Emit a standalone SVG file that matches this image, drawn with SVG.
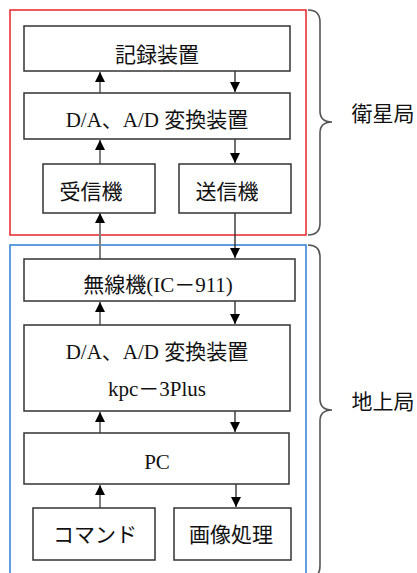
<svg xmlns="http://www.w3.org/2000/svg" width="417" height="573" viewBox="0 0 417 573">
<defs>
<marker id="ah" markerUnits="userSpaceOnUse" markerWidth="11" markerHeight="12" refX="10" refY="5.5" orient="auto">
<path d="M0,0.5 L10,5.5 L0,10.5 Z" fill="#000"/>
</marker>
<style>
.box{fill:#fff;stroke:#333;stroke-width:1.5}
.t{font-family:"Liberation Serif","Noto Sans CJK JP",serif;font-size:21px;fill:#111;text-anchor:middle}
.j{font-family:"Noto Sans CJK JP",sans-serif;font-size:21px;fill:#111;text-anchor:middle}
.up{stroke:#808080;stroke-width:2;fill:none;marker-end:url(#ah)}
.dn{stroke:#222;stroke-width:1.3;fill:none;marker-end:url(#ah)}
.brace{fill:none;stroke:#555;stroke-width:1.6}
</style>
</defs>
<rect width="417" height="573" fill="#fff"/>
<g id="groups">
<rect x="10" y="10" width="296" height="225" fill="none" stroke="#e8242a" stroke-width="1.5"/>
<rect x="10" y="245" width="296" height="335" fill="none" stroke="#2a7fd4" stroke-width="1.5"/>
<path class="brace" d="M308,10 Q320,10 320,22 L320,111 Q320,122 332,122 Q320,122 320,133 L320,223 Q320,235 308,235"/>
<path class="brace" d="M308,245 Q320,245 320,257 L320,399 Q320,410 332,410 Q320,410 320,421 L320,566 Q320,578 308,578"/>
<text class="j" x="383" y="121">衛星局</text>
<text class="j" x="383" y="409">地上局</text>
</g>
<g id="connectors">
<line class="up" x1="100" y1="93" x2="100" y2="72"/>
<line class="dn" x1="235" y1="71" x2="235" y2="92"/>
<line class="up" x1="100" y1="164" x2="100" y2="140"/>
<line class="dn" x1="235" y1="139" x2="235" y2="163"/>
<line class="up" x1="100" y1="259" x2="100" y2="213"/>
<line class="dn" x1="235" y1="213" x2="235" y2="258"/>
<line class="up" x1="100" y1="325" x2="100" y2="302"/>
<line class="dn" x1="235" y1="301" x2="235" y2="324"/>
<line class="up" x1="100" y1="433" x2="100" y2="412"/>
<line class="dn" x1="235" y1="411" x2="235" y2="432"/>
<line class="up" x1="100" y1="508" x2="100" y2="485"/>
<line class="dn" x1="236" y1="484" x2="236" y2="507"/>
</g>
<g id="n1"><rect class="box" x="24" y="26" width="266" height="45"/><text class="t" x="157" y="62">記録装置</text></g>
<g id="n2"><rect class="box" x="24" y="93" width="266" height="46"/><text class="t" x="157" y="127">D/A、A/D 変換装置</text></g>
<g id="n3"><rect class="box" x="43" y="164" width="112" height="49"/><text class="t" x="91" y="199">受信機</text></g>
<g id="n4"><rect class="box" x="179" y="164" width="112" height="49"/><text class="t" x="227" y="199">送信機</text></g>
<g id="n5"><rect class="box" x="24" y="259" width="271" height="42"/><text class="t" x="158" y="292">無線機(IC－911)</text></g>
<g id="n6"><rect class="box" x="24" y="325" width="266" height="86"/><text class="t" x="157" y="359">D/A、A/D 変換装置</text><text class="t" x="157" y="396">kpc－3Plus</text></g>
<g id="n7"><rect class="box" x="24" y="433" width="265" height="51"/><text class="t" x="157" y="469">PC</text></g>
<g id="n8"><rect class="box" x="33" y="508" width="122" height="52"/><text class="t" x="95" y="542">コマンド</text></g>
<g id="n9"><rect class="box" x="174" y="508" width="117" height="52"/><text class="t" x="231" y="542">画像処理</text></g>
</svg>
